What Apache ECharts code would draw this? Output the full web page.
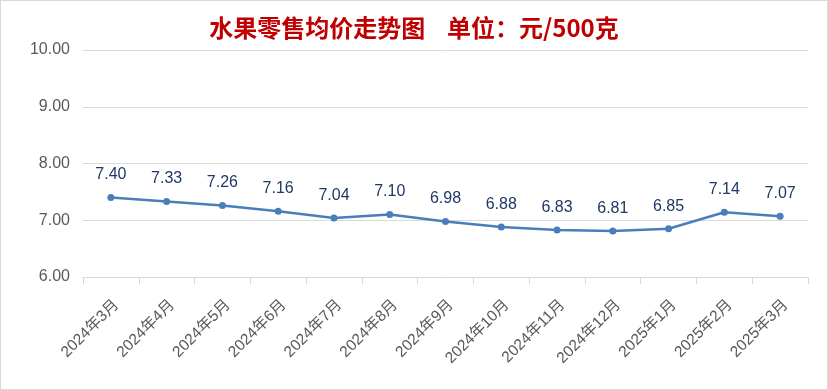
<!DOCTYPE html>
<html><head><meta charset="utf-8">
<script src="https://cdn.jsdelivr.net/npm/echarts@6/dist/echarts.min.js"></script>
<style>
html,body{margin:0;padding:0;background:#fff;}
#c{position:absolute;left:0;top:0;width:826px;height:388px;border:1px solid #d9d9d9;}
</style></head><body>
<div id="c"></div>
<script>
const categories = ['2024年3月','2024年4月','2024年5月','2024年6月','2024年7月','2024年8月','2024年9月','2024年10月','2024年11月','2024年12月','2025年1月','2025年2月','2025年3月'];
const prices = [7.40,7.33,7.26,7.16,7.04,7.10,6.98,6.88,6.83,6.81,6.85,7.14,7.07];
const titleText = '水果零售均价走势图    单位：元/500克';
const yMin = 6, yMax = 10, yStep = 1;

const chart = echarts.init(document.getElementById('c'), null, {renderer:'canvas'});
chart.setOption({
  animation:false,
  title:{text:titleText,left:'center',top:10,textStyle:{color:'#C00000',fontSize:24,fontWeight:'bold',fontFamily:'"Noto Sans CJK SC", sans-serif'}},
  grid:{left:82,right:19,top:49,bottom:112,containLabel:false},
  xAxis:{type:'category',data:categories,boundaryGap:true,
    axisLine:{lineStyle:{color:'#d9d9d9'}},
    axisTick:{show:true,alignWithLabel:false,length:7,lineStyle:{color:'#d9d9d9'}},
    axisLabel:{rotate:45,interval:0,margin:20,verticalAlign:'top',color:'#595959',fontSize:15.5,fontFamily:'"Liberation Sans", "Noto Sans CJK SC", sans-serif'}},
  yAxis:{type:'value',min:yMin,max:yMax,interval:yStep,
    axisLine:{show:false},axisTick:{show:false},
    splitLine:{lineStyle:{color:'#d9d9d9'}},
    axisLabel:{formatter:v=>v.toFixed(2),color:'#595959',fontSize:16,margin:13,fontFamily:'"Liberation Sans", Arial, sans-serif'}},
  series:[{type:'line',data:prices,symbol:'circle',symbolSize:7,
    lineStyle:{color:'#4A7EBB',width:2.5},itemStyle:{color:'#4A7EBB'},
    label:{show:true,position:'top',distance:11,formatter:p=>p.value.toFixed(2),color:'#203864',fontSize:16,fontFamily:'"Liberation Sans", Arial, sans-serif'}}]
});
</script>
</body></html>
